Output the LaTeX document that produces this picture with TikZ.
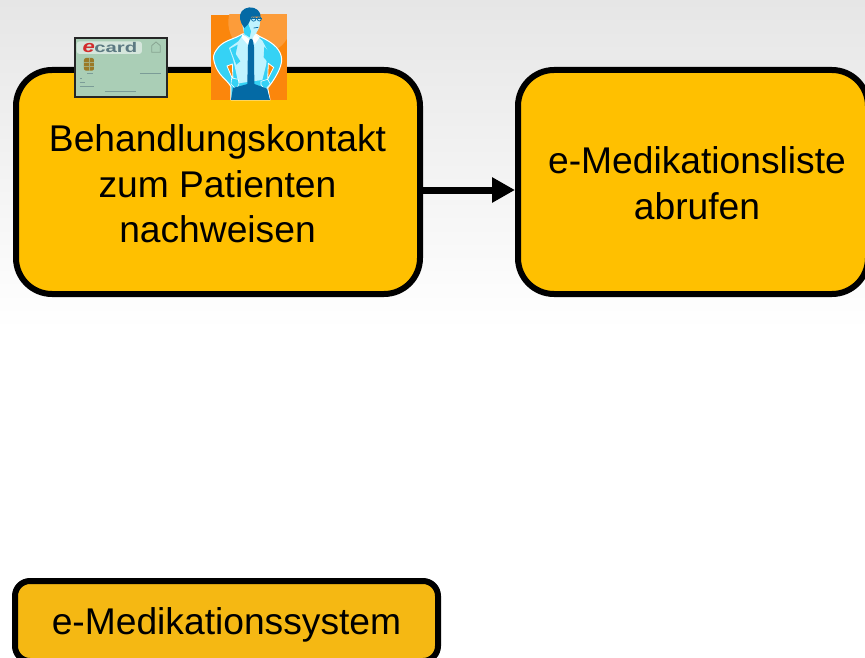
\documentclass[tikz,border=0pt]{standalone}
\usepackage{fontspec}
\setmainfont{Liberation Sans}
\usetikzlibrary{arrows.meta}
\definecolor{boxfill}{HTML}{FFC000}
\definecolor{sysfill}{HTML}{F5B813}
\definecolor{bgtop}{HTML}{E6E6E6}
\definecolor{cardg}{HTML}{AACEB6}
\definecolor{cardlbl}{HTML}{D5E6DC}
\definecolor{cardtx}{HTML}{5C7A82}
\definecolor{chipc}{HTML}{9A7A28}
\definecolor{orangeA}{HTML}{FB860C}
\definecolor{orangeB}{HTML}{FC9C3A}
\definecolor{shirtL}{HTML}{BFF3FF}
\definecolor{shirtD}{HTML}{35D2F5}
\definecolor{navy}{HTML}{046AA5}
\tikzset{
  x=1pt,y=-1pt,
  procbox/.style={draw=black,line width=6pt,fill=boxfill,rounded corners=36pt},
  sysbox/.style={draw=black,line width=6pt,fill=sysfill,rounded corners=15pt},
  lbl/.style={align=center,font=\fontsize{37.2}{45.5}\selectfont,text=black},
  flow/.style={line width=7pt,-{Triangle[length=23pt,width=24pt]}}
}
\begin{document}
\begin{tikzpicture}
\useasboundingbox (0,0) rectangle (865,658);
\clip (0,0) rectangle (865,658);
\fill[top color=bgtop,bottom color=white] (0,0) rectangle (865,330);
\node[procbox,minimum width=404pt,minimum height=224pt,anchor=north west,outer sep=3pt] (kontakt) at (13,67) {};
\node[procbox,minimum width=350pt,minimum height=224pt,anchor=north west,outer sep=3pt] (liste) at (515,67) {};
\node[lbl] at (217.5,184) {Behandlungskontakt\\zum Patienten\\nachweisen};
\node[lbl] at (697,183) {e-Medikationsliste\\abrufen};
\coordinate (flowy) at (0,190);
\draw[flow] (kontakt.east |- flowy) -- (liste.west |- flowy);
\node[sysbox,minimum width=423pt,minimum height=80pt,anchor=north west,outer sep=3pt] (system) at (12,578) {};
\node[lbl,anchor=base] at (226.5,634) {e-Medikationssystem};
% e-card
\begin{scope}[shift={(70,34)},x=0.3333pt,y=-0.3333pt]
\fill[cardg,draw=black!85,line width=2pt] (15,13) rectangle (291,189);
\fill[cardlbl,rounded corners=3pt] (20,22) rectangle (216,60);
\node[font=\bfseries\fontsize{14}{14}\selectfont,text=cardtx,anchor=base west,inner sep=0pt,xscale=1.45] at (72,55) {card};
\node[font=\bfseries\itshape\fontsize{17}{17}\selectfont,text=red!65!gray,anchor=base west,inner sep=0pt,xscale=1.3] at (37,55) {e};
\fill[chipc,rounded corners=2pt] (42,72) rectangle (72,110);
\draw[cardg!60!chipc,line width=0.6pt] (42,85) -- (72,85) (42,97) -- (72,97) (57,72) -- (57,110);
\draw[cardtx!60!cardg,line width=0.7pt] (52,118) -- (68,118) (30,132) -- (36,132) (30,146) -- (44,146) (30,158) -- (72,158) (105,173) -- (198,173) (210,118) -- (272,118);
\draw[cardg!80!black,line width=0.8pt] (245,55) -- (245,35) -- (258,24) -- (271,35) -- (271,55) -- cycle;
\end{scope}
% person
\begin{scope}[shift={(205,4)},x=0.3333pt,y=-0.3333pt]
\fill[orangeA] (18,33) rectangle (246,288);
\begin{scope}
\clip (18,33) rectangle (246,288);
\fill[orangeB] (165,55) circle[radius=95];
\end{scope}
% silhouette
\path[fill=shirtD,draw=white,line width=1pt,line join=round] (112,90) .. controls (90,105) and (60,108) .. (42,128)
  .. controls (32,140) and (24,150) .. (26,165) .. controls (30,190) and (42,208) .. (52,218)
  .. controls (62,228) and (72,238) .. (78,248) -- (78,288) -- (195,288) -- (188,252)
  .. controls (205,232) and (232,190) .. (230,165) .. controls (228,140) and (210,118) .. (165,98) -- (150,88) -- cycle;
% gaps between arms and body
\fill[orangeA,draw=white,line width=0.8pt] (66,186) -- (82,180) -- (84,228) -- cycle;
\fill[orangeA,draw=white,line width=0.8pt] (206,190) -- (190,178) -- (188,226) -- cycle;
% pale shirt
\fill[shirtL] (112,95) -- (150,92) -- (172,110) -- (188,140) -- (184,180) -- (172,228) -- (100,238) -- (92,200) -- (84,165) -- (72,132) -- (100,112) -- cycle;
\fill[shirtD] (76,134) -- (98,122) -- (92,150) -- (106,172) -- (94,182) -- cycle;
\fill[shirtD] (178,128) -- (198,150) -- (190,176) -- (176,160) -- cycle;
\fill[shirtD] (52,135) -- (66,125) -- (60,155) -- (46,160) -- cycle;
% hands
\fill[shirtD,draw=white,line width=0.6pt] (80,222) -- (100,226) -- (102,240) -- (94,256) -- (78,240) -- cycle;
\fill[shirtD,draw=white,line width=0.6pt] (188,226) -- (168,232) -- (168,242) -- (180,258) -- (196,240) -- cycle;
% trousers
\fill[navy] (84,252) -- (128,240) -- (148,240) -- (186,254) -- (195,288) -- (78,288) -- cycle;
% tie
\fill[navy] (133,105) -- (143,105) -- (147,128) -- (148,240) -- (127,240) -- (129,128) -- cycle;
% collar
\fill[white] (112,90) -- (134,106) -- (128,122) -- (110,100) -- cycle;
\fill[white] (150,88) -- (142,106) -- (150,120) -- (164,100) -- cycle;
% neck and face
\fill[shirtL] (112,62) -- (118,92) -- (134,105) -- (150,92) -- (155,85) -- (163,70) -- (167,42) -- (128,40) -- cycle;
\fill[shirtD] (115,55) -- (130,60) -- (138,82) -- (134,100) -- (118,90) -- cycle;
% hair
\fill[navy] (118,72) .. controls (105,55) and (100,35) .. (110,22) .. controls (120,8) and (145,6) .. (158,18)
  .. controls (164,24) and (167,30) .. (167,38) -- (140,38) -- (134,52) -- (130,60) -- cycle;
% glasses
\draw[navy,line width=0.8pt] (130,43) -- (170,43);
\draw[navy,line width=0.7pt] (146,45) circle[radius=6.5] (163,45) circle[radius=6];
\draw[navy,line width=0.7pt] (146,72) -- (160,70);
\end{scope}
\end{tikzpicture}
\end{document}
